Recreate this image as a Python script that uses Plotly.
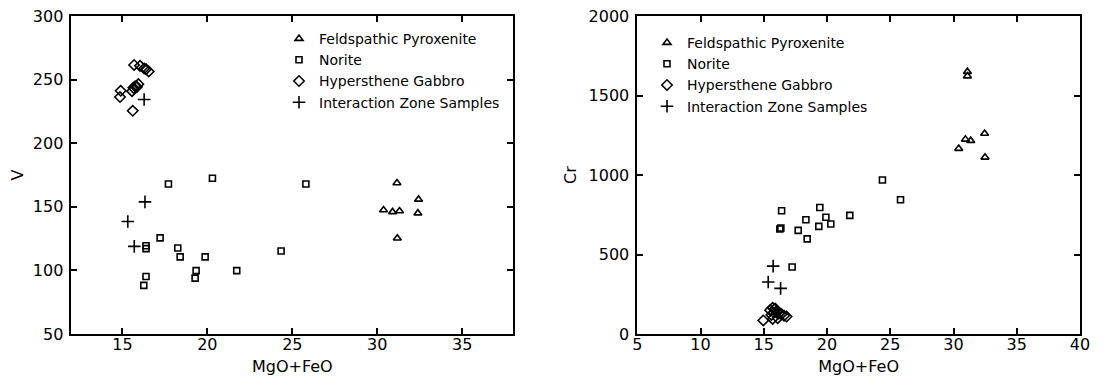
import plotly.graph_objects as go

# ---------------- data: left panel (V vs MgO+FeO) ----------------
fp_x_V = [31.16, 32.43, 30.37, 30.90, 31.31, 32.39, 31.18]
fp_V = [168.7, 155.8, 147.5, 146.0, 146.7, 145.0, 125.3]

nor_x_V = [17.71, 20.30, 25.80, 17.22, 16.39, 16.39, 18.26, 18.40, 19.87, 24.34, 19.34, 19.28, 21.73, 16.39, 16.26]
nor_V = [167.9, 172.5, 167.9, 125.6, 119.4, 117.1, 117.6, 110.6, 110.6, 115.3, 99.8, 93.9, 99.8, 95.2, 88.2]

hg_x_V = [15.69, 16.04, 16.28, 16.39, 16.55, 14.90, 14.86, 15.57, 15.65, 15.75, 15.94, 15.85, 15.61]
hg_V = [261.5, 260.8, 258.7, 258.2, 256.4, 241.2, 236.3, 240.9, 243.5, 244.8, 246.4, 244.3, 225.5]

iz_x_V = [16.28, 16.33, 15.32, 15.70]
iz_V = [234.4, 153.9, 138.4, 118.9]

# ---------------- data: right panel (Cr vs MgO+FeO) ----------------
fp_x_Cr = [31.1, 31.1, 32.46, 30.94, 31.36, 30.41, 32.49]
fp_Cr = [1650, 1622, 1261, 1224, 1216, 1166, 1111]

nor_x_Cr = [24.38, 25.81, 16.41, 19.43, 18.33, 19.91, 19.35, 20.30, 21.80, 16.35, 16.27, 17.72, 18.43, 17.24]
nor_Cr = [969, 844, 775, 796, 719, 734, 677, 692, 746, 667, 660, 652, 598, 421]

hg_x_Cr = [14.96, 15.5, 15.7, 15.9, 15.6, 15.8, 16.0, 16.2, 16.4, 16.6, 16.8, 15.7, 16.1]
hg_Cr = [85, 150, 165, 160, 120, 135, 140, 130, 125, 115, 110, 95, 100]

iz_x_Cr = [15.74, 15.35, 16.33]
iz_Cr = [427, 327, 287]

series_names = ["Feldspathic Pyroxenite", "Norite", "Hypersthene Gabbro", "Interaction Zone Samples"]
x_ticks_left = [15, 20, 25, 30, 35]
y_ticks_left = [50, 100, 150, 200, 250, 300]
x_ticks_right = [5, 10, 15, 20, 25, 30, 35, 40]
y_ticks_right = [0, 500, 1000, 1500, 2000]

FONT = "DejaVu Sans"
styles = [
    dict(symbol="triangle-up-open", size=7),
    dict(symbol="square-open", size=6),
    dict(symbol="diamond-open", size=8),
    dict(symbol="cross-thin-open", size=9),
]

fig = go.Figure()
left = [(fp_x_V, fp_V), (nor_x_V, nor_V), (hg_x_V, hg_V), (iz_x_V, iz_V)]
right = [(fp_x_Cr, fp_Cr), (nor_x_Cr, nor_Cr), (hg_x_Cr, hg_Cr), (iz_x_Cr, iz_Cr)]

for (xs, ys), name, st in zip(left, series_names, styles):
    fig.add_trace(go.Scatter(
        x=xs, y=ys, mode="markers", name=name, xaxis="x", yaxis="y", legend="legend",
        marker=dict(symbol=st["symbol"], size=st["size"], color="black",
                    line=dict(color="black", width=1.6)),
    ))
for (xs, ys), name, st in zip(right, series_names, styles):
    fig.add_trace(go.Scatter(
        x=xs, y=ys, mode="markers", name=name, xaxis="x2", yaxis="y2", legend="legend2",
        marker=dict(symbol=st["symbol"], size=st["size"], color="black",
                    line=dict(color="black", width=1.6)),
    ))

# the page body adds an 8px margin, so the figure is sized to fit inside it
W, H = 1094, 371
axis_common = dict(
    showgrid=False, zeroline=False, showline=True, linecolor="black", linewidth=1.6,
    mirror="ticks", ticks="inside", ticklen=6, tickwidth=1.5, tickcolor="black",
    tickfont=dict(family=FONT, size=16, color="black"), automargin=False,
    ticklabeloverflow="allow",
)
xax = dict(axis_common, ticklabelstandoff=-5)
yax = dict(axis_common, ticklabelstandoff=3)
ydom = [1 - 326 / H, 1 - 8 / H]

fig.update_layout(
    width=W, height=H,
    margin=dict(l=0, r=0, t=0, b=0, autoexpand=False),
    paper_bgcolor="white", plot_bgcolor="white",
    font=dict(family=FONT, color="black"),
    xaxis=dict(xax, domain=[63.4 / W, 505.2 / W], range=[12, 38], tickvals=x_ticks_left,
               anchor="y", title=dict(text="MgO+FeO", font=dict(family=FONT, size=16), standoff=8)),
    yaxis=dict(yax, domain=ydom, range=[50, 300], tickvals=y_ticks_left,
               anchor="x", title=dict(text="V", font=dict(family=FONT, size=16), standoff=32)),
    xaxis2=dict(xax, domain=[629.3 / W, 1072 / W], range=[5, 40], tickvals=x_ticks_right,
                anchor="y2", title=dict(text="MgO+FeO", font=dict(family=FONT, size=16), standoff=8)),
    yaxis2=dict(yax, domain=ydom, range=[0, 2000], tickvals=y_ticks_right,
                anchor="x2", title=dict(text="Cr", font=dict(family=FONT, size=16), standoff=8)),
    legend=dict(x=271 / W, y=1 - 15 / H, xanchor="left", yanchor="top",
                font=dict(family=FONT, size=14, color="black"), bgcolor="rgba(0,0,0,0)"),
    legend2=dict(x=639 / W, y=1 - 19 / H, xanchor="left", yanchor="top",
                 font=dict(family=FONT, size=14, color="black"), bgcolor="rgba(0,0,0,0)"),
    showlegend=True,
)

fig.write_html("out.html")
